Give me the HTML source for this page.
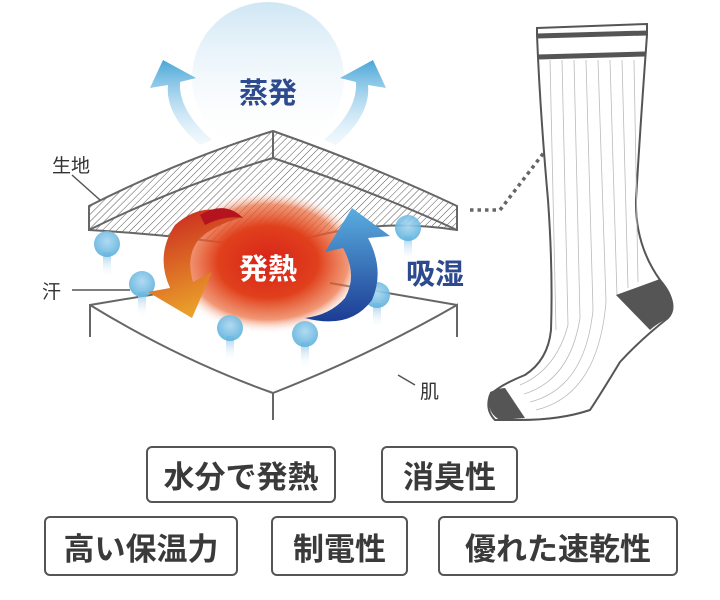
<!DOCTYPE html>
<html><head><meta charset="utf-8"><style>
body{margin:0;background:#fff;width:720px;height:600px;overflow:hidden;font-family:"Liberation Sans","Noto Sans CJK JP",sans-serif;}
.b{position:absolute;border:2px solid #555;border-radius:6px;background:#fff;color:#3a3a3a;font-size:31px;font-weight:bold;display:flex;align-items:center;justify-content:center;box-sizing:border-box;font-family:"Noto Sans CJK JP",sans-serif;}
</style></head><body>
<svg width="720" height="600" style="position:absolute;left:0;top:0" xmlns="http://www.w3.org/2000/svg">
<defs>
<pattern id="h" width="5" height="5" patternUnits="userSpaceOnUse" patternTransform="rotate(45)"><line x1="0" y1="0" x2="0" y2="5" stroke="#555" stroke-width="1"/></pattern>
<radialGradient id="heat" cx="0.5" cy="0.5" r="0.5"><stop offset="0" stop-color="#d8231a"/><stop offset="0.5" stop-color="#e0401c"/><stop offset="0.8" stop-color="#ea6a3a" stop-opacity="0.7"/><stop offset="1" stop-color="#fff" stop-opacity="0"/></radialGradient>
<linearGradient id="ev" x1="0" y1="0" x2="0" y2="1"><stop offset="0" stop-color="#cfe6f4"/><stop offset="1" stop-color="#fff" stop-opacity="0"/></linearGradient>
<linearGradient id="ea" x1="0" y1="0" x2="0" y2="1"><stop offset="0" stop-color="#4aa6d8"/><stop offset="1" stop-color="#d5ecf8" stop-opacity="0.3"/></linearGradient>
<linearGradient id="ra" x1="0" y1="0" x2="0.3" y2="1"><stop offset="0" stop-color="#c8201f"/><stop offset="1" stop-color="#eaa02a"/></linearGradient>
<linearGradient id="ba" x1="0" y1="0" x2="0" y2="1"><stop offset="0" stop-color="#5aaee0"/><stop offset="1" stop-color="#1c3c94"/></linearGradient>
<radialGradient id="dr" cx="0.5" cy="0.4" r="0.6"><stop offset="0" stop-color="#a8d6f0"/><stop offset="1" stop-color="#5ab0dc"/></radialGradient>
<linearGradient id="tail" x1="0" y1="0" x2="0" y2="1"><stop offset="0" stop-color="#9ccbe8"/><stop offset="1" stop-color="#fff" stop-opacity="0"/></linearGradient>
<g id="drop"><rect x="-4" y="8" width="8" height="26" fill="url(#tail)"/><circle r="13" fill="url(#dr)" opacity="0.9"/></g>
</defs>
<circle cx="268" cy="78" r="76" fill="url(#ev)"/>
<path d="M200,145 Q165,115 168,85 L150,88 L163,60 L196,78 L180,82 Q178,110 212,140 Z" fill="url(#ea)"/>
<path d="M336,145 Q371,115 368,85 L386,88 L373,60 L340,78 L356,82 Q358,110 324,140 Z" fill="url(#ea)"/>
<path d="M89,206 Q180,160 273,131 Q370,165 457,206 L457,230 Q360,215 273,250 Q180,235 89,230 Z" fill="url(#h)" stroke="#666" stroke-width="2"/>
<path d="M89,230 Q180,185 273,158 Q370,190 457,230 M273,131 L273,158" fill="none" stroke="#666" stroke-width="2"/>
<path d="M90,337 L90,305 L180,290 M90,305 Q180,360 273,393 Q370,355 457,305 L457,337 M457,305 L330,283 M273,393 L273,420" fill="none" stroke="#666" stroke-width="2"/>
<ellipse cx="268" cy="262" rx="100" ry="72" fill="url(#heat)"/>
<use href="#drop" x="107" y="244"/><use href="#drop" x="142" y="284"/><use href="#drop" x="230" y="328"/><use href="#drop" x="305" y="334"/><use href="#drop" x="377" y="295"/><use href="#drop" x="408" y="228"/>
<path d="M240,218 Q205,198 175,225 Q155,255 170,288 L148,292 L192,318 L212,272 L193,282 Q185,255 200,238 Q215,225 240,218 Z" fill="url(#ra)"/>
<path d="M200,215 Q225,200 243,218 Q225,215 205,225 Z" fill="#b5131d"/>
<path d="M305,318 Q350,330 372,300 Q385,270 368,238 L390,236 L352,208 L325,252 L343,248 Q358,275 345,298 Q330,315 305,318 Z" fill="url(#ba)"/>
<path d="M72,175 L100,200 M72,290 L130,290 M398,375 L415,385" stroke="#555" stroke-width="1.5" fill="none"/>
<path d="M470,210 L500,210 L565,125" stroke="#666" stroke-width="3.5" stroke-dasharray="3.5 4" fill="none"/>
<path d="M537,28 L647,24 L647,35 Q640,130 636,200 Q635,245 660,280 Q680,305 668,318 Q640,340 620,362 Q600,395 590,410 Q560,420 520,420 L495,420 Q485,410 490,395 Q500,385 525,375 Q548,360 551,330 Q553,270 548,200 Q540,110 537,35 Z" fill="#fff" stroke="#555" stroke-width="2"/>
<g stroke="#bbb" stroke-width="0.8" fill="none">
<path d="M550,60 L556,330 M562,60 L568,325 M574,60 L580,318 M586,60 L593,310 M598,60 L606,302 M610,60 L617,296 M622,60 L628,288 M634,60 L638,282"/>
<path d="M520,385 Q556,370 568,325 M524,394 Q570,380 580,318 M530,402 Q585,388 593,310 M536,410 Q598,395 606,302"/>
</g>
<path d="M537,36 L647,33" stroke="#555" stroke-width="5"/>
<path d="M538,57 L645,54" stroke="#555" stroke-width="5"/>
<path d="M616,295 L660,279 Q680,300 668,318 Q655,325 650,330 Z" fill="#555"/>
<path d="M490,392 Q500,388 505,388 L525,418 L500,420 Q485,412 490,392 Z" fill="#555"/>
<g font-family="Noto Sans CJK JP, sans-serif" font-weight="bold">
<text x="268" y="103" font-size="29" fill="#2e4a8f" text-anchor="middle">蒸発</text>
<text x="268" y="279" font-size="29" fill="#fff" text-anchor="middle">発熱</text>
<text x="435" y="284" font-size="29" fill="#2e4a8f" text-anchor="middle">吸湿</text>
</g>
<g font-family="Noto Sans CJK JP, sans-serif" font-size="19" fill="#333">
<text x="52" y="172">生地</text>
<text x="42" y="298">汗</text>
<text x="420" y="398">肌</text>
</g>
</svg>
<div class="b" style="left:146px;top:446px;width:190px;height:57px">水分で発熱</div>
<div class="b" style="left:381px;top:446px;width:137px;height:57px">消臭性</div>
<div class="b" style="left:44px;top:516px;width:194px;height:60px">高い保温力</div>
<div class="b" style="left:271px;top:516px;width:137px;height:60px">制電性</div>
<div class="b" style="left:438px;top:516px;width:240px;height:60px">優れた速乾性</div>
</body></html>
